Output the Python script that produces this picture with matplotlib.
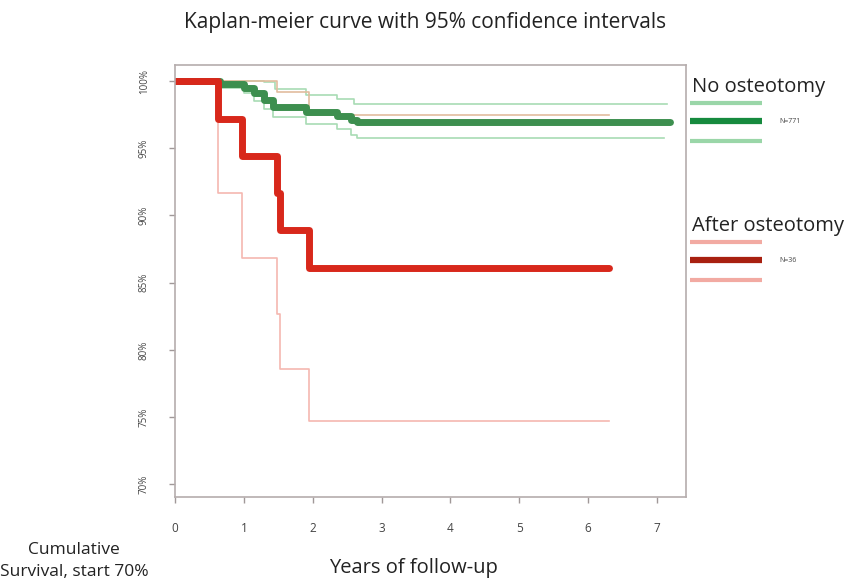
import numpy as np
import matplotlib.pyplot as plt
from matplotlib.lines import Line2D

plt.rcParams['font.family'] = ['Open Sans', 'DejaVu Sans']

# Kaplan-Meier estimates (years, survival %)
green_t = [0, 0.65, 1.0, 1.15, 1.3, 1.42, 1.9, 2.35, 2.55, 2.65, 7.19]
green_s = [100, 99.8, 99.5, 99.1, 98.6, 98.1, 97.7, 97.4, 97.1, 96.95, 96.95]
green_up_t = [0, 1.3, 1.45, 1.9, 2.35, 2.6, 7.15]
green_up_s = [100, 99.9, 99.4, 99.0, 98.7, 98.3, 98.3]
green_lo_t = [0, 0.65, 1.0, 1.15, 1.3, 1.42, 1.9, 2.35, 2.55, 2.65, 7.1]
green_lo_s = [100, 99.5, 99.1, 98.5, 97.9, 97.3, 96.8, 96.4, 96.0, 95.8, 95.8]

red_t = [0, 0.63, 0.97, 1.475, 1.52, 1.95, 6.3]
red_s = [100, 97.2, 94.4, 91.7, 88.9, 86.1, 86.1]
red_lo_s = [100, 91.7, 86.8, 82.7, 78.6, 74.7, 74.7]
red_up_t = [0, 1.475, 1.95, 6.3]
red_up_s = [100, 99.2, 97.5, 97.5]

groups = ['No osteotomy', 'After osteotomy']
group_n = ['N=771', 'N=36']
xticks = np.arange(0, 8)
yticks = [70, 75, 80, 85, 90, 95, 100]

fig = plt.figure(figsize=(8.51, 5.84), dpi=100)
ax = fig.add_axes([0.2056, 0.149, 0.6005, 0.7397])

# confidence bands
ax.step(green_up_t, green_up_s, where='post', color='#a8dcb4', lw=1.2)
ax.step(green_lo_t, green_lo_s, where='post', color='#a8dcb4', lw=1.2)
ax.step(red_t, red_lo_s, where='post', color='#f5b8b0', lw=1.2)
ax.step(red_up_t, red_up_s, where='post', color='#e2bc9e', lw=1.2)

# main curves
ax.step(green_t, green_s, where='post', color='#3d8f4f', lw=5,
        solid_joinstyle='round', solid_capstyle='round')
ax.step(red_t, red_s, where='post', color='#d8281b', lw=5,
        solid_joinstyle='round', solid_capstyle='round')

ax.set_xlim(0, 7.42)
ax.set_ylim(69.05, 101.2)
ax.set_xticks(xticks)
ax.set_yticks(yticks)
ax.set_yticklabels([f'{v}%' for v in yticks], rotation=90, va='center')
ax.tick_params(axis='both', colors='#a09898', labelcolor='#444444', labelsize=7,
               length=4, width=1)
ax.tick_params(axis='x', labelsize=8.5, pad=14)
ax.tick_params(axis='y', pad=14)
for s in ax.spines.values():
    s.set_color('#b5adad')
    s.set_linewidth(1.2)

fig.text(0.5, 0.962, 'Kaplan-meier curve with 95% confidence intervals',
         ha='center', va='center', fontsize=15, color='#222222')
fig.text(0.486, 0.027, 'Years of follow-up', ha='center', va='center',
         fontsize=14.5, color='#222222')
fig.text(0.087, 0.039, 'Cumulative\nSurvival, start 70%', ha='center', va='center',
         fontsize=12.5, color='#222222', linespacing=1.5)

# legend drawn beside the plot
leg = [
    (groups[0], group_n[0], 0.851, '#9ad6a8', '#168a3e'),
    (groups[1], group_n[1], 0.613, '#f2aaa2', '#a82010'),
]
for name, n, ytop, light, dark in leg:
    fig.text(0.813, ytop, name, ha='left', va='center', fontsize=14.5, color='#222222')
    for dy, col, lw in [(-0.027, light, 3), (-0.059, dark, 4.5), (-0.093, light, 3)]:
        fig.add_artist(Line2D([0.811, 0.895], [ytop + dy, ytop + dy],
                              transform=fig.transFigure, color=col, lw=lw,
                              solid_capstyle='butt'))
    fig.text(0.916, ytop - 0.059, n, ha='left', va='center', fontsize=5, color='#444444')

fig.savefig('out.png', dpi=100, facecolor='white')
